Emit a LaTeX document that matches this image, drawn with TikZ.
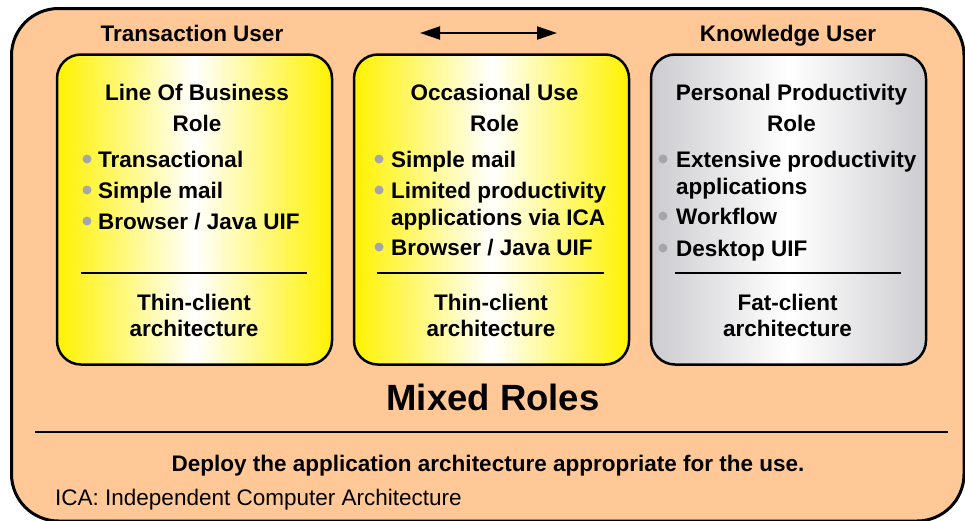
\documentclass[tikz,border=0pt]{standalone}
\usepackage{fontspec}
\setmainfont{Liberation Sans}
\usetikzlibrary{arrows.meta,positioning}
\definecolor{peach}{RGB}{255,200,150}
\definecolor{dotgray}{RGB}{165,165,172}
\definecolor{edgegray}{RGB}{204,204,208}
\definecolor{roleyellow}{RGB}{255,242,0}
\tikzset{
  outer/.style={line width=3pt, fill=peach, rounded corners=47pt},
  ybox/.style={draw, line width=2.5pt, rounded corners=24pt, minimum width=275pt, minimum height=310pt,
    left color=roleyellow, right color=roleyellow, middle color=white},
  gbox/.style={ybox, left color=edgegray, right color=edgegray, middle color=white},
  txt/.style={font=\fontsize{22.5}{27}\selectfont\bfseries, inner sep=0pt},
  ttl/.style={txt, align=center, font=\fontsize{22.5}{31}\selectfont\bfseries},
  arch/.style={txt, align=center, font=\fontsize{22.5}{26}\selectfont\bfseries},
  item/.style={txt, anchor=north west, align=left, font=\fontsize{22.5}{27}\selectfont\bfseries},
  dot/.style={circle, fill=dotgray, inner sep=0pt, minimum size=9pt},
  sep/.style={line width=2.2pt},
}
\begin{document}
\begin{tikzpicture}[x=1pt, y=-1pt]
  \useasboundingbox (0,0) rectangle (965,520);

  % outer frame (runs off the right and bottom edges)
  \draw[outer] (11.5,8.5) rectangle (964,521);

  % user headings and arrow between them
  \node[txt, anchor=base] (tu) at (192,41) {Transaction User};
  \node[txt, anchor=base] (ku) at (788,41) {Knowledge User};
  \coordinate (arL) at (420,33);
  \coordinate (arR) at (557,33);
  \draw[{Triangle[length=20pt,width=13pt]}-{Triangle[length=20pt,width=13pt]}, line width=2pt] (arL) -- (arR);

  % role panels
  \node[ybox] (lob) at (194.5,209.5) {};
  \node[ybox] (occ) at (491.5,209.5) {};
  \node[gbox] (pp) at (788.5,209.5) {};

  % panel titles
  \node[ttl] (lobT) at (197,107.5) {Line Of Business\\Role};
  \node[ttl] (occT) at (494.5,107.5) {Occasional Use\\Role};
  \node[ttl] (ppT) at (791.5,108) {Personal Productivity\\Role};

  % bullets
  \foreach \y [count=\i] in {159,190,221} \node[dot] (lobd\i) at (87,\y) {};
  \foreach \y [count=\i] in {159,190,247} \node[dot] (occd\i) at (379,\y) {};
  \foreach \y [count=\i] in {159,216,248} \node[dot] (ppd\i) at (663,\y) {};

  \node[item] (lobi1) at (98,151) {Transactional};
  \node[item] (lobi2) at (98,182) {Simple mail};
  \node[item] (lobi3) at (98,213) {Browser / Java UIF};

  \node[item] (occi1) at (391,151) {Simple mail};
  \node[item] (occi2) at (391,182) {Limited productivity\\applications via ICA};
  \node[item] (occi3) at (391,239) {Browser / Java UIF};

  \node[item] (ppi1) at (676,151) {Extensive productivity\\applications};
  \node[item] (ppi2) at (676,208) {Workflow};
  \node[item] (ppi3) at (676,240) {Desktop UIF};

  % separators and architecture
  \draw[sep] (81,273) -- (307,273);
  \draw[sep] (377,273) -- (604,273);
  \draw[sep] (675,273) -- (901,273);

  \node[arch] (lobA) at (194,315) {Thin-client\\architecture};
  \node[arch] (occA) at (491,315) {Thin-client\\architecture};
  \node[arch] (ppA) at (787.5,315) {Fat-client\\architecture};

  % footer
  \node[txt, anchor=base, font=\fontsize{36.5}{40}\selectfont\bfseries] (mixed) at (493,410) {Mixed Roles};
  \draw[sep, line width=2.5pt] (35,432) -- (948,432);
  \node[txt, anchor=base] (deploy) at (488,471) {Deploy the application architecture appropriate for the use.};
  \node[txt, anchor=base west, font=\fontsize{22.5}{27}\selectfont] (ica) at (55,505) {ICA: Independent Computer Architecture};
\end{tikzpicture}
\end{document}
